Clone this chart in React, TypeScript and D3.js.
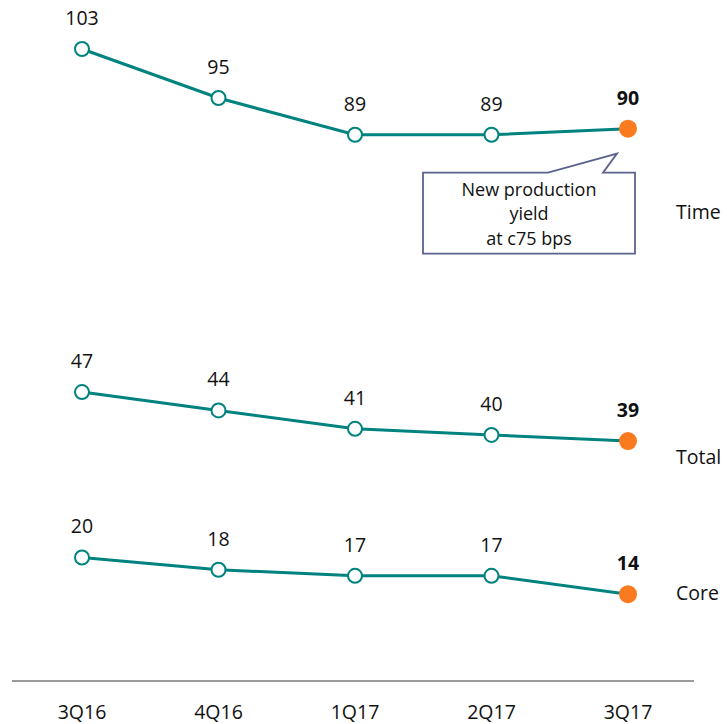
import React from "react";
import * as d3 from "d3";

const categories = ["3Q16", "4Q16", "1Q17", "2Q17", "3Q17"];
const timeValues = [103, 95, 89, 89, 90];
const totalValues = [47, 44, 41, 40, 39];
const coreValues = [20, 18, 17, 17, 14];
const seriesNames = ["Time", "Total", "Core"];
const seriesLabelValues = [76.4, 36.4, 14.2];
const calloutLines = ["New production", "yield", "at c75 bps"];

const W = 727;
const H = 724;
const TEAL = "#00837F";
const ORANGE = "#F97A1F";
const FONT = "'Open Sans', 'Noto Sans', sans-serif";
const FS = 19.5;

export default function App() {
  const x = d3.scalePoint<string>().domain(categories).range([82, 628]);
  const y = d3.scaleLinear().domain([0, 111]).range([680, 0]);
  const line = d3
    .line<number>()
    .x((_, i) => x(categories[i]) as number)
    .y((d) => y(d));

  const series = [timeValues, totalValues, coreValues];
  const last = categories.length - 1;

  const px = x(categories[last]) as number;
  const py = y(timeValues[last]);
  const bx0 = 423, bx1 = 635, by0 = py + 44, by1 = py + 125;
  const calloutPath = `M${bx0},${by0} L${548},${by0} L${px - 11},${py + 25} L${603},${by0} L${bx1},${by0} L${bx1},${by1} L${bx0},${by1} Z`;
  const cx = (bx0 + bx1) / 2;

  return (
    <svg
      width={W}
      height={H}
      style={{ position: "absolute", left: 0, top: 0, background: "#fff" }}
      fontFamily={FONT}
    >
      <line x1={12} x2={694} y1={y(0) + 1} y2={y(0) + 1} stroke="#9a9a9a" strokeWidth={2} />
      {categories.map((c) => (
        <text key={c} x={x(c)} y={719} textAnchor="middle" fontSize={FS} fill="#111">
          {c}
        </text>
      ))}
      {series.map((vals, si) => (
        <g key={si}>
          <path d={line(vals) || ""} fill="none" stroke={TEAL} strokeWidth={3} />
          {vals.map((v, i) =>
            i === last ? (
              <circle key={i} cx={x(categories[i])} cy={y(v)} r={9} fill={ORANGE} />
            ) : (
              <circle key={i} cx={x(categories[i])} cy={y(v)} r={7} fill="#fff" stroke={TEAL} strokeWidth={2} />
            )
          )}
          {vals.map((v, i) => (
            <text
              key={"t" + i}
              x={x(categories[i])}
              y={y(v) - 24}
              textAnchor="middle"
              fontSize={FS}
              fontWeight={i === last ? 700 : 400}
              fill="#111"
            >
              {v}
            </text>
          ))}
          <text x={676} y={y(seriesLabelValues[si]) + 7} fontSize={FS} fill="#111">
            {seriesNames[si]}
          </text>
        </g>
      ))}
      <path d={calloutPath} fill="#fff" stroke="#5B6290" strokeWidth={1.8} />
      {calloutLines.map((t, i) => (
        <text key={t} x={cx} y={by0 + 23 + i * 24.5} textAnchor="middle" fontSize={18} fill="#111">
          {t}
        </text>
      ))}
    </svg>
  );
}
